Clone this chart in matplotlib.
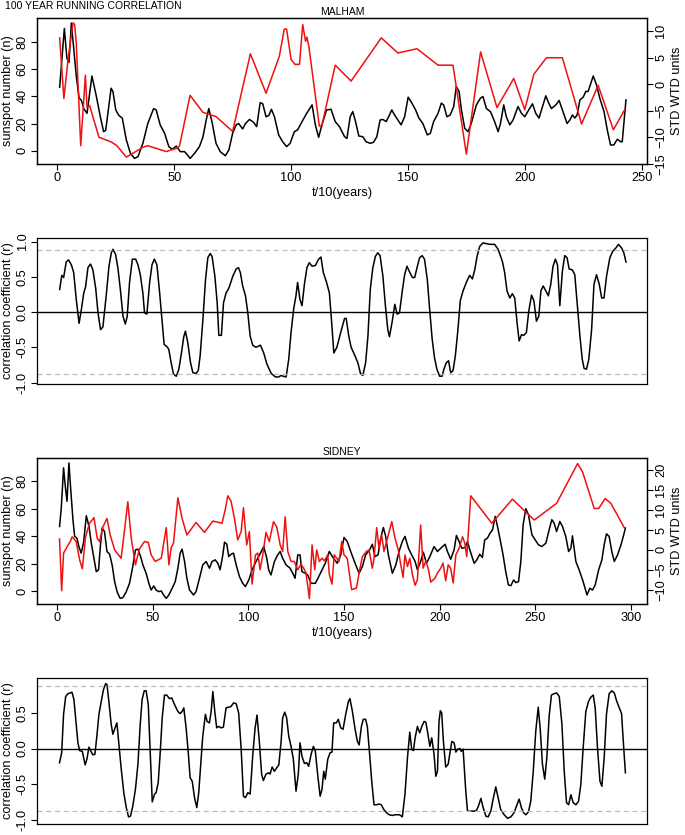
import matplotlib
matplotlib.use("Agg")
import matplotlib.pyplot as plt

plt.rcParams['font.family'] = ['Liberation Sans', 'DejaVu Sans']

# ---- MALHAM: sunspot number (black, left axis) ----
malham_ssn_t = [1, 3, 4.1, 5, 6, 8.1, 9.3, 10.3, 11.3, 12.7, 14.8, 16.7, 18.4, 19.8, 20.7, 23, 23.8, 25, 26.3,
                27.8, 29.5, 31.3, 33, 34.5, 36.6, 38.7, 41.2, 42.3, 44, 45.9, 47.7, 49.1, 50.9, 52.6, 54.4,
                55.4, 56.8, 58.7, 60.8, 62.3, 63.7, 64.8, 66.2, 67.9, 69.7, 71.9, 73.4, 75, 76.5, 77.6,
                79.3, 80.5, 82.2, 83.9, 85.3, 86.8, 87.9, 89.3, 90.5, 91.6, 92.9, 94.7, 96.4, 98.1, 99.6,
                101.4, 102.8, 104.7, 106.7, 109, 110.4, 111.8, 113.2, 115.2, 117.1, 118.9, 120.7, 122.9,
                123.9, 125.3, 126.4, 127.6, 129, 130.7, 132.1, 133.9, 135.3, 136.7, 138.1, 139.3, 140.7,
                142.1, 143.1, 144.3, 145.7, 147.1, 148.6, 150.1, 151.4, 153.3, 154.7, 156.4, 158.3, 159.6,
                161, 162.9, 164.3, 165.3, 166.7, 168.1, 169.6, 170.7, 171.9, 172.9, 174.3, 175.7, 177.1,
                179.3, 181, 182.1, 183.6, 185.3, 187.1, 188.6, 189.6, 191, 192.1, 193.6, 195, 197.1, 198.6,
                200, 201.7, 203.3, 204.7, 206.1, 207.6, 209, 210, 211.4, 213.3, 214.7, 216.1, 218.1, 219.3,
                220.4, 221.4, 222.4, 223.6, 225, 226.1, 227.1, 228.3, 229.3, 230.7, 232.1, 233.9, 235.3,
                236.7, 238.1, 239.6, 241, 241.7, 242.4, 243.3]
malham_ssn = [46.8, 90, 68, 65, 94, 55, 39, 37, 31, 27.5, 55, 40, 25, 14, 15, 46, 43.5, 30, 26,
              24, 8, -2, -5.7, -4.4, 5.4, 20, 31, 30, 19, 12.8, 3, 1, 3.4, -0.7, -0.7,
              -2.5, -5.7, -2, 3, 10, 22.6, 31, 21, 5.4, -0.7, -3.7, 0.5, 12.8, 19, 20,
              16, 20, 23, 21, 17.7, 35.4, 34.5, 25, 26, 30.5, 25, 11.6, 6.6, 3, 5.4,
              14, 15.3, 21.4, 27.5, 33.7, 19, 9.8, 19, 30, 30.5, 21.4, 17.7, 10.3,
              9, 25, 28.8, 21.4, 10.8, 10.3, 6.6, 5.4, 6.2, 10.3, 22.6, 23, 21.4,
              26.3, 30, 26.3, 22.6, 19, 25, 39.4, 36, 30, 24, 20, 11.6, 12.8,
              21.4, 27.5, 35, 33.7, 25, 26.3, 32.5, 47.3, 43.6, 30, 16.5, 14, 20,
              33.7, 38.6, 39.9, 31, 28.8, 21.4, 14, 20, 33.7, 25, 19, 22.6, 32.5, 27.5,
              25, 30, 34.5, 27.5, 24, 32.5, 40.4, 36, 31, 33.7, 37, 30, 20, 22.6,
              26.3, 24, 26.3, 37.4, 39.4, 43.6, 43.6, 49.7, 55, 48.5, 38.6, 28.8, 15.3,
              4.2, 4.2, 8.4, 6.6, 6.6, 20, 37.4]

# ---- MALHAM: STD WTD units (red, right axis) ----
malham_std_t = [1, 2.8, 4.6, 6.7, 7.4, 8.1, 10, 12, 12.7, 13.8, 17.8, 23.1, 25.5, 29.5, 36.6, 38.7, 46.6,
                51.6, 52.3, 56.8, 62.3, 67.9, 75, 82.6, 89.3, 95, 97.1, 98.1, 100, 101.7, 103.6, 105,
                106.2, 106.8, 107.6, 112.1, 113.2, 118.9, 125.7, 138.6, 145.7, 153.9, 162.9, 169.3,
                175, 181.1, 188.1, 195.3, 200, 203.9, 209.3, 216.1, 224.3, 231.4, 237.9, 242.9]
malham_std = [8.75, -2.7, 4.7, 11.6, 11.25, 7.8, -11.6, 1.7, -4.4, -4, -10, -10.9, -11.6, -13.75, -11.9,
              -11.6, -12.7, -12, -11.6, -2.1, -5.3, -6.1, -8.9, 5.75, -1.7, 5.3, 10.4, 10.4, 4.7, 3.75,
              3.75, 11.25, 8.1, 8.9, 7.2, -7.9, -7.8, 3.6, 0.6, 8.75, 5.9, 6.7, 3.6, 3.6,
              -13.2, 6.1, -4.4, 1.1, -4.8, 1.9, 5, 5, -7.5, -0.2, -8.6, -4.7]

# ---- MALHAM: running correlation ----
malham_r_t = [1, 1.9, 2.7, 3.8, 4.8, 6, 7, 8.1, 9.3, 10.3, 11.3, 12.1, 13.1, 14.2, 15.2, 16.4, 17.4, 18.5,
              19.5, 20.9, 22.1, 23.1, 23.8, 24.9, 25.9, 26.9, 28.1, 29.1, 29.9, 30.9, 32.1, 33.5, 34.5,
              35.5, 36.6, 37.3, 38.3, 39.5, 40.5, 41.5, 42.6, 43.7, 44.9, 45.7, 46.9, 47.7, 48.7, 49.7,
              50.9, 52, 53.1, 54.1, 54.8, 55.8, 57, 58, 59.4, 60.3, 61.1, 62.3, 63.4, 64.4, 65.4, 66.2,
              67.4, 68.4, 69.1, 70.2, 71.1, 72.2, 73.4, 75.1, 76.5, 77.5, 78.3, 79.3, 80.5, 81.5, 82.5,
              83.6, 85, 86.9, 88.3, 89.7, 91.5, 93.3, 94.7, 95.7, 96.7, 97.9, 99, 100, 101.1, 102.1,
              102.8, 103.8, 104.7, 105.7, 106.8, 107.8, 109, 110.4, 111.8, 112.8, 113.8, 115.2, 116.4,
              117.5, 118.3, 119.6, 121.4, 122.9, 123.6, 124.7, 125.7, 127.1, 128.6, 129.7, 130.7,
              131.9, 132.9, 133.9, 135, 136.1, 137.1, 138.1, 139.3, 140.4, 141.4, 142.1, 143.3, 144.4,
              145.4, 146.4, 147.6, 148.6, 149.6, 150.7, 151.9, 152.9, 153.9, 155, 156.1, 157.1, 158.3,
              159.3, 160.4, 161.4, 162.4, 163.6, 164.6, 165.4, 166.4, 167.4, 168.3, 169.3, 170.3,
              171.4, 172.4, 173.6, 175, 176.4, 177.6, 178.6, 179.6, 180.7, 182.1, 183.6, 185, 187.1,
              188.6, 190.4, 191.4, 192.4, 193.6, 194.7, 195.7, 196.7, 197.6, 198.6, 199.6, 200.7,
              201.7, 202.9, 203.9, 205, 206, 206.9, 207.9, 209, 210.1, 211.1, 212.1, 213.1, 214, 215,
              216.1, 217.1, 218.1, 219, 220.3, 221.4, 222.4, 223.6, 224.6, 225.4, 226.4, 227.4, 228.6,
              229.6, 230.7, 231.9, 232.9, 233.9, 235, 236.4, 237.6, 239, 240.1, 241.4, 242.4, 243.3]
malham_r = [0.32, 0.52, 0.49, 0.71, 0.74, 0.67, 0.56, 0.18, -0.16, 0.04, 0.27, 0.36, 0.63, 0.68, 0.6, 0.34,
            -0.01, -0.25, -0.21, 0.23, 0.65, 0.84, 0.89, 0.82, 0.63, 0.34, -0.06, -0.17, -0.06, 0.42,
            0.75, 0.75, 0.67, 0.53, 0.27, -0.01, -0.03, 0.42, 0.67, 0.75, 0.67, 0.3, -0.15, -0.46,
            -0.49, -0.53, -0.72, -0.88, -0.91, -0.81, -0.58, -0.35, -0.27, -0.43, -0.72, -0.86, -0.87,
            -0.83, -0.62, -0.1, 0.46, 0.77, 0.83, 0.79, 0.51, 0.13, -0.33, -0.33, 0.13, 0.27, 0.34,
            0.51, 0.61, 0.63, 0.56, 0.37, 0.23, -0.01, -0.34, -0.47, -0.5, -0.47, -0.58, -0.74, -0.87,
            -0.92, -0.92, -0.9, -0.91, -0.92, -0.67, -0.29, 0.04, 0.23, 0.42, 0.18, 0.09, 0.39, 0.63,
            0.7, 0.65, 0.66, 0.75, 0.78, 0.56, 0.42, 0.27, -0.2, -0.58, -0.5, -0.27, -0.09, -0.09,
            -0.34, -0.5, -0.6, -0.72, -0.87, -0.9, -0.72, -0.34, 0.32, 0.63, 0.79, 0.84, 0.8, 0.51,
            0.08, -0.25, -0.35, -0.13, 0.11, -0.03, -0.01, 0.3, 0.53, 0.65, 0.57, 0.49, 0.49, 0.63,
            0.77, 0.8, 0.75, 0.46, 0.04, -0.39, -0.65, -0.81, -0.91, -0.91, -0.81, -0.72, -0.69,
            -0.86, -0.83, -0.62, -0.25, 0.16, 0.3, 0.42, 0.52, 0.47, 0.6, 0.79, 0.93, 0.98, 0.97,
            0.96, 0.96, 0.89, 0.72, 0.56, 0.3, 0.2, 0.26, 0.2, -0.15, -0.41, -0.32, -0.33, -0.29,
            0.01, 0.24, 0.16, -0.13, -0.06, 0.3, 0.37, 0.3, 0.23, 0.39, 0.65, 0.75, 0.67, 0.09, 0.58,
            0.8, 0.77, 0.61, 0.6, 0.53, 0.13, -0.34, -0.67, -0.8, -0.81, -0.67, -0.25, 0.39, 0.53,
            0.39, 0.2, 0.2, 0.51, 0.77, 0.86, 0.91, 0.96, 0.91, 0.84, 0.71]

# ---- SIDNEY: sunspot number (black, left axis) ----
sidney_ssn_t = [1.2, 2.1, 3.3, 4.2, 5.1, 6.1, 7, 8.2, 9.1, 10.3, 11.3, 12.5, 13.8, 15.2, 16.6, 17.8, 19.2,
                20.4, 21.6, 22.6, 23.5, 24.7, 26, 27.4, 28.7, 30, 31.4, 32.9, 34.3, 36.1, 37.8, 39.5,
                40.9, 42.2, 43.6, 44.8, 46.5, 47.9, 49.1, 50.5, 51.7, 53.1, 54.4, 55.6, 57, 58.4, 60.1,
                61.7, 63.1, 64.3, 65.3, 66.6, 67.8, 69.2, 71.3, 72.6, 74.4, 76.1, 77.9, 79.6, 81, 82.6,
                84, 85.2, 86.6, 87.5, 88.7, 89.7, 90.9, 92.2, 93.6, 95.3, 97, 98.4, 100.2, 101.9, 104,
                106.3, 108, 109.6, 110.6, 111.8, 113.6, 115.3, 116.6, 117.9, 119.7, 121.8, 123.2, 124.4,
                125.8, 127, 128, 129.8, 131, 132.8, 135, 136.8, 138.5, 140.2, 142.3, 143.9, 146.5,
                148.3, 150, 151.7, 153.5, 155.8, 157.9, 159.6, 161.3, 163.4, 164.8, 166.2, 167.8, 169.2,
                170.6, 171.8, 173.2, 175.3, 177.1, 178.8, 180.5, 181.9, 183.7, 185.4, 187.2, 188.4,
                190.1, 191.5, 193.1, 194.9, 197.1, 198.9, 200.6, 202.9, 204.1, 205.8, 207.6, 208.8,
                210.2, 211.6, 213.4, 214.6, 215.8, 218.1, 219.5, 221, 222.4, 223.6, 225, 226.4, 227.7,
                229.1, 230.3, 231.7, 233.2, 234.6, 236, 237.3, 238.7, 239.9, 241.3, 242.5, 243.7, 245.1,
                246.5, 248.3, 250, 251.7, 253.5, 255.6, 257.3, 258.7, 259.9, 261.2, 262.9, 264.3, 266,
                267.5, 268.7, 269.5, 271.3, 273, 275.1, 277.1, 278.6, 280, 281.4, 283.2, 284.9, 286.1,
                287.3, 288.7, 290.1, 291.4, 293.1, 294.9, 296.1, 297.2]
sidney_ssn = [47, 60.5, 89.8, 76.3, 65.4, 93.4, 75, 52, 39.8, 38.5, 32.4, 27.6, 35.6, 54.9, 47, 34.9, 23.9,
              14.1, 15.4, 33.7, 45.9, 43.4, 28.8, 26.8, 19, 6.8, -1, -5.4, -4.9, -0.5, 5.6, 17.8,
              30, 30.5, 25.1, 19, 12.9, 5.6, 0.7, 3.7, 0.7, -0.5, 0, -2.9, -5.4, -2.9, 2,
              6.8, 16.6, 27.6, 30.5, 21.5, 9.3, 0.7, -2.9, -0.5, 9.3, 19, 21.5, 16.6, 21.5, 22.7,
              20.2, 15.4, 26.3, 35.6, 34.1, 25.1, 26.8, 27.6, 19, 10.5, 5.6, 3.2, 8, 15.4, 21.5,
              27.6, 32.4, 23.9, 15.4, 11.7, 21.5, 26.3, 28.8, 23.9, 19, 16.6, 12.9, 9.3,
              26.3, 26.3, 14.1, 12.9, 11.7, 5.6, 5.6, 10.5, 15.4, 20.2, 28.8, 25.1, 20.2,
              26.3, 39, 36.1, 28.8, 20.2, 12.9, 17.8, 26.3, 30, 34.1, 25.1, 26.3, 38.5,
              46.3, 39.8, 26.3, 12.9, 19, 28.8, 36.1, 39.8, 31.2, 26.3, 21.5, 15.4,
              21.5, 28.3, 20.2, 25.1, 32.4, 28.8, 31.2, 34.1, 28.8, 23.2, 30, 40.5,
              36.1, 31.2, 31.7, 36.1, 30, 20.2, 22.7, 26.8, 24.4, 37.3, 38.5, 42.2, 44.6,
              54.4, 47, 37.3, 26.3, 14.1, 4.4, 3.9, 8, 6.1, 6.8, 21.5, 48.3, 60,
              55.6, 41, 37.3, 33.7, 32.4, 34.9, 44.6, 52, 49.5, 43.4, 50.7, 47, 39.8,
              28.8, 31.2, 40.2, 21.5, 15.4, 6.8, -2.9, 2, 0.7, 4.4, 15.4, 22.7, 33.7,
              41.7, 39.8, 28.8, 21.5, 26.3, 33.7, 39.8, 45.9]

# ---- SIDNEY: STD WTD units (red, right axis) ----
sidney_std_t = [1.2, 2.3, 3.3, 4.7, 6.8, 7.8, 9.9, 11.7, 13.1, 14.8, 16.9, 19.2, 20.9, 22.1, 23.9, 26, 27.7,
                30, 33.4, 35.2, 36.9, 38.7, 40.9, 43, 45.6, 47.6, 49.1, 51.2, 54.4, 57, 58.4, 59.6, 60.8,
                63.1, 65.3, 67.8, 72.6, 77, 81.4, 86.2, 88, 89.2, 90.9, 92.7, 94.4, 96.2, 97.4, 99.1,
                100.5, 101.9, 103.7, 104.9, 106.1, 107.5, 109.2, 110.9, 113.1, 114.8, 116.6, 117.9,
                119.2, 120.6, 122.3, 124, 125.8, 127.5, 128.9, 130.1, 131.9, 133.3, 134.7, 135.7,
                137.1, 138.5, 139.7, 141.5, 142.3, 143.7, 144.9, 146.2, 147.4, 148.8, 150, 151.7, 154,
                156.5, 158.2, 159.6, 161.7, 163.1, 164.8, 165.7, 167.1, 168.3, 169.7, 170.9, 172.7,
                175, 176.7, 178.4, 179.7, 180.9, 181.9, 183.2, 184.4, 185.8, 187.2, 188.4, 190.1,
                191.4, 192.8, 194.2, 195.4, 197.6, 198.9, 200.6, 201.8, 203.2, 204.5, 205.8, 207.1,
                208.5, 210.2, 212, 213.2, 214.2, 216.3, 227.3, 238.1, 249.5, 261.2, 272.2, 274.8,
                280.9, 283.2, 286.6, 289.6, 296.6]
sidney_std = [2.75, -10.25, -0.8, 0.4, 2.1, 3.3, 2.1, -2.5, -4.75, 3.3, 6.7, 8.1, 2.9, 2.1, 5.8, 7.9, 3.75,
              0, -2.1, 5, 12.1, 2.9, -3.75, 0.25, 2.1, 1.9, -1.25, -2.9, -2.1, 5.6, -3.75, 0.6, 1.7,
              13.1, 7.9, 3.75, 6.9, 4.4, 7.25, 6.7, 10.4, 13.6, 12.25, 7.9, 2.5, 4.6, 10.6, 1.25,
              4.6, -8.6, -1.25, -0.8, -5, -1.25, 4.4, 2.1, 7.1, 5.8, 1.25, -0.4,
              8.3, -0.4, -2.9, -2.9, -5, -3.6, -4.6, -5.8, -12.25, 1.25, -5, 0,
              -2.9, -2.1, -2.75, -1.25, -6.1, -8.6, -1.25, -2.1, -2.9, 2.1, -1.25, -2.1, -10,
              -9.6, -5, -1.7, -0.4, 0, -4.6, -2.1, 5.6, 0.4, 3.75, -0.4, 2.9,
              7.1, 2.9, 0, -3.75, -6.9, -1.25, -4.2, -2.1, -6.25, -8.9, -7.5, 6.25,
              -4.6, -2.75, -5, -8.1, -7.1, -5.8, -4.6, -3.3, -7.75, -3.75, -4.6, -8.3,
              -1.25, 0.4, 3.3, 1.7, -1.7, 13.6, 6.7, 12.75, 7.5, 11.7, 21.7, 19.6,
              10.4, 10.4, 12.9, 11.7, 5.6]

# ---- SIDNEY: running correlation ----
sidney_r_t = [1.2, 2.3, 3.3, 4.4, 5.6, 6.8, 7.7, 8.7, 9.9, 10.8, 11.7, 13.1, 14.6, 15.5, 16.6, 17.8, 18.6,
              19.7, 20.7, 21.8, 23, 24.2, 25.3, 26, 27, 28.2, 29.1, 30.1, 31.2, 32.2, 33.4, 34.8, 36.1,
              37.3, 38.3, 39.5, 40.9, 42.2, 43.4, 44.4, 45.5, 46.5, 47.6, 48.6, 49.7, 50.9, 51.7, 52.8,
              53.8, 54.9, 56.1, 57.3, 58.7, 59.9, 61.3, 63.1, 64.3, 65.3, 66.2, 67.4, 68.6, 69.5, 70.6,
              71.8, 73, 74, 75.3, 76.1, 77.5, 78.4, 79.6, 80.5, 81.4, 82.4, 83.4, 84.5, 85.7, 86.9,
              88.3, 89.7, 90.9, 92.2, 93.6, 94.9, 96.2, 97.4, 98.4, 99.7, 100.9, 102.3, 103.5, 104.5,
              105.7, 106.9, 107.8, 109.2, 110.5, 111.3, 112.4, 113.6, 114.8, 115.9, 117.1, 117.9, 119,
              120, 121.1, 122.3, 123.5, 124.9, 126.1, 127, 128, 129.3, 130.5, 131.5, 132.8, 134, 135,
              136.2, 137.5, 138.5, 139.4, 140.2, 141.5, 142.7, 143.7, 144.6, 146, 147, 148.3, 149.5,
              150.9, 152.3, 153.1, 154.4, 155.8, 157, 157.9, 159.1, 160.1, 161.3, 162.2, 163.4, 164.5,
              165.7, 166.9, 168.3, 169.5, 170.9, 172.2, 173.6, 175.3, 176.7, 177.9, 179.1, 180.5,
              181.9, 183.2, 184.4, 185.4, 186.3, 187.2, 188.4, 189.6, 190.7, 191.9, 192.8, 193.8,
              194.9, 195.9, 197.1, 198, 198.9, 199.7, 200.4, 201.1, 202, 203.2, 204.5, 205.3, 206.4,
              207.6, 208.5, 209.5, 210.6, 211.3, 212.3, 213.7, 214.6, 216.3, 218.1, 219.3, 220.3,
              221.6, 222.8, 224.2, 225.4, 226.8, 228, 229.4, 230.8, 232, 233.8, 235.5, 237.3, 239,
              240.2, 241.6, 242.8, 243.9, 245.1, 246.5, 247.7, 249, 250.3, 251.6, 252.6, 253.8, 255,
              256.1, 257.3, 258.5, 259.9, 261.3, 262.6, 264, 265.2, 266.4, 267.5, 268.7, 269.9, 271.3,
              272.7, 273.9, 275.1, 276.5, 277.9, 279.1, 280.4, 281.4, 282.6, 283.9, 284.9, 286.1,
              287.3, 288.7, 290.1, 291.4, 292.6, 294, 295.2, 296.1, 297.2]
sidney_r = [-0.2, -0.06, 0.48, 0.73, 0.77, 0.78, 0.79, 0.69, 0.34, 0.08, -0.03, -0.04, -0.23, -0.15, 0.02,
            -0.05, -0.09, -0.08, 0.17, 0.48, 0.66, 0.83, 0.91, 0.9, 0.66, 0.34, 0.2, 0.28, 0.36, 0.08,
            -0.27, -0.62, -0.83, -0.96, -0.95, -0.81, -0.57, -0.22, 0.34, 0.69, 0.81, 0.81, 0.62,
            -0.04, -0.75, -0.64, -0.62, -0.48, -0.08, 0.43, 0.75, 0.75, 0.7, 0.71, 0.62, 0.52, 0.49,
            0.52, 0.57, 0.29, -0.08, -0.41, -0.46, -0.69, -0.83, -0.62, -0.13, 0.17, 0.48, 0.38,
            0.36, 0.52, 0.8, 0.52, 0.29, 0.31, 0.29, 0.3, 0.57, 0.58, 0.59, 0.64, 0.63, 0.5, -0.01,
            -0.67, -0.69, -0.62, -0.64, -0.08, 0.29, 0.47, 0.1, -0.36, -0.45, -0.36, -0.34, -0.36,
            -0.26, -0.32, -0.27, -0.23, 0.1, 0.43, 0.51, 0.43, 0.17, 0.03, -0.15, -0.6, -0.36, 0.08,
            -0.11, -0.21, -0.2, -0.25, -0.08, 0.03, -0.04, -0.36, -0.67, -0.57, -0.32, -0.43, -0.15,
            -0.06, -0.05, 0.36, 0.36, 0.41, 0.29, 0.27, 0.48, 0.66, 0.7, 0.52, 0.27, 0.1, 0.05, 0.31,
            0.41, 0.41, 0.31, -0.08, -0.46, -0.79, -0.79, -0.78, -0.79, -0.86, -0.9, -0.93, -0.94,
            -0.93, -0.93, -0.93, -0.96, -0.64, -0.13, 0.23, -0.01, -0.03, 0.15, 0.31, 0.22, 0.31,
            0.38, 0.37, 0.22, 0.03, 0.15, -0.08, -0.39, -0.32, 0.38, 0.53, 0.5, 0.1, -0.26, -0.22,
            -0.08, 0.1, 0.08, -0.05, -0.01, 0, -0.04, -0.01, -0.6, -0.88, -0.88, -0.88, -0.87, -0.81,
            -0.7, -0.83, -0.95, -0.96, -0.88, -0.71, -0.54, -0.71, -0.86, -0.93, -0.98, -0.96, -0.9,
            -0.81, -0.71, -0.83, -0.9, -0.93, -0.89, -0.74, -0.32, 0.24, 0.58, 0.29, -0.22, -0.43,
            -0.13, 0.45, 0.75, 0.77, 0.78, 0.73, 0.34, -0.32, -0.76, -0.79, -0.65, -0.76, -0.79,
            -0.74, -0.5, 0.01, 0.52, 0.66, 0.72, 0.75, 0.57, 0.01, -0.46, -0.53, -0.13, 0.48, 0.77,
            0.81, 0.78, 0.67, 0.57, 0.49, 0.1, -0.34]

sig_level = 0.88
fs = 9.2
left, width = 37 / 685, 610 / 685


def style_axis(ax):
    ax.tick_params(direction='out', length=4, width=0.8, labelsize=fs, pad=2)
    ax.tick_params(axis='y', labelrotation=90)
    for s in ax.spines.values():
        s.set_linewidth(0.9)


def series_panel(rect, title, t1, y1, t2, y2, xlim, ylim1, ylim2, xticks, yticks2):
    ax = fig.add_axes(rect)
    ax.plot(t1, y1, color='black', lw=1.1)
    ax.set_xlim(xlim)
    ax.set_ylim(ylim1)
    ax.set_xticks(xticks)
    ax.set_yticks([0, 20, 40, 60, 80])
    ax.set_ylabel('sunspot number (n)', fontsize=fs, labelpad=2)
    ax.set_xlabel('t/10(years)', fontsize=fs, labelpad=2)
    ax.set_title(title, fontsize=7.5, pad=2)
    style_axis(ax)
    for lab in ax.get_yticklabels():
        lab.set_va('center')
    ax2 = ax.twinx()
    ax2.plot(t2, y2, color='#ee1111', lw=1.1)
    ax2.set_ylim(ylim2)
    ax2.set_yticks(yticks2)
    ax2.set_ylabel('STD WTD units', fontsize=fs, labelpad=3)
    style_axis(ax2)
    for lab in ax2.get_yticklabels():
        lab.set_va('center')
    return ax, ax2


def corr_panel(rect, t, r, xlim, ylim, yticks):
    ax = fig.add_axes(rect)
    ax.plot(t, r, color='black', lw=1.1)
    ax.axhline(0, color='black', lw=1.0)
    ax.axhline(sig_level, color='#bbbbbb', lw=0.9, ls=(0, (4, 3)))
    ax.axhline(-sig_level, color='#bbbbbb', lw=0.9, ls=(0, (4, 3)))
    ax.set_xlim(xlim)
    ax.set_ylim(ylim)
    ax.set_xticks([])
    ax.set_yticks(yticks)
    ax.set_yticklabels(['%.1f' % v for v in yticks])
    ax.set_ylabel('correlation coefficient (r)', fontsize=fs, labelpad=2)
    style_axis(ax)
    for lab in ax.get_yticklabels():
        lab.set_va('center')
    return ax


fig = plt.figure(figsize=(6.85, 8.35), dpi=100)

series_panel([left, 1 - 164 / 835, width, 146 / 835], 'MALHAM',
             malham_ssn_t, malham_ssn, malham_std_t, malham_std,
             (-8.7, 252.3), (-9.8, 97.7), (-15.05, 12.5), [0, 50, 100, 150, 200, 250],
             [-15, -10, -5, 0, 5, 10])
corr_panel([left, 1 - 384 / 835, width, 146 / 835], malham_r_t, malham_r,
           (-8.7, 252.3), (-1.02, 1.05), [-1.0, -0.5, 0.0, 0.5, 1.0])

series_panel([left, 1 - 604 / 835, width, 146 / 835], 'SIDNEY',
             sidney_ssn_t, sidney_ssn, sidney_std_t, sidney_std,
             (-10.6, 308.5), (-9.5, 97), (-13.6, 23.1), [0, 50, 100, 150, 200, 250, 300],
             [-10, -5, 0, 5, 10, 15, 20])
corr_panel([left, 1 - 824 / 835, width, 146 / 835], sidney_r_t, sidney_r,
           (-10.6, 308.5), (-1.06, 0.99), [-1.0, -0.5, 0.0, 0.5])

fig.text(5 / 685, 1 - 6 / 835, '100 YEAR RUNNING CORRELATION', fontsize=7.5, va='center', ha='left')

fig.savefig('out.png', dpi=100)
